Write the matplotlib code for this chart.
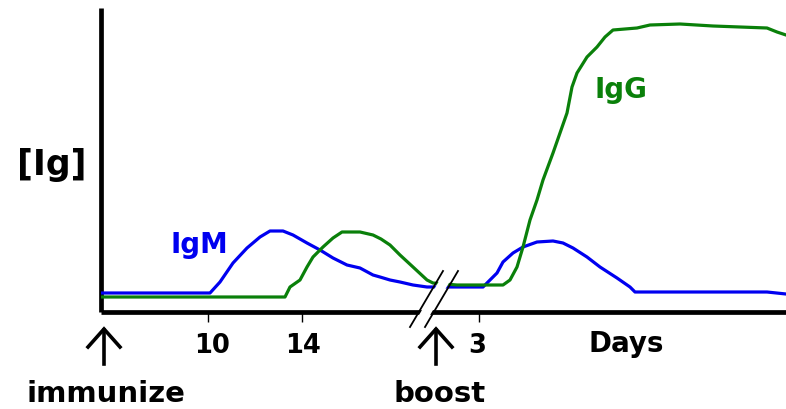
import matplotlib
matplotlib.use("Agg")
import matplotlib.pyplot as plt
from matplotlib.lines import Line2D
from matplotlib.patches import Polygon

# Schematic antibody response: x in layout units along the time axis,
# y in relative concentration units (0 at the time axis).
igm_x = [0, 109, 119, 132, 146, 159, 169, 182, 192, 206, 219, 232, 246, 259,
         272, 279, 289, 299, 312, 326, 382, 386, 396, 402, 412, 422, 436, 452,
         462, 472, 486, 499, 516, 529, 534, 666, 685]
igm_y = [19, 19, 30, 49, 64, 75, 81, 81, 77, 69, 62, 54, 47, 44,
         37, 35, 32, 30, 27, 25, 25, 29, 39, 50, 59, 65, 70, 71,
         69, 64, 55, 45, 34, 25, 20, 20, 18]

igg_x = [0, 184, 189, 199, 206, 212, 222, 232, 241, 259, 272, 280, 289, 299,
         312, 326, 332, 356, 402, 409, 416, 422, 429, 436, 442, 452, 459, 466,
         471, 476, 486, 496, 504, 512, 536, 549, 579, 612, 666, 676, 685]
igg_y = [15, 15, 25, 32, 45, 55, 65, 74, 80, 80, 77, 73, 67, 57,
         45, 32, 29, 27, 27, 32, 45, 65, 92, 112, 132, 159, 179, 199,
         225, 239, 255, 265, 275, 282, 284, 287, 288, 286, 284, 280, 277]

tick_pos = [107, 201, 378]
tick_labels = ["10", "14", "3"]

W, H = 786, 409
fig = plt.figure(figsize=(W / 100, H / 100), dpi=100)
ax_left, ax_right, ax_top, ax_bottom = 101, 786, 8, 312
ax = fig.add_axes([ax_left / W, 1 - ax_bottom / H,
                   (ax_right - ax_left) / W, (ax_bottom - ax_top) / H])
ax.set_xlim(0, ax_right - ax_left)
ax.set_ylim(0, ax_bottom - ax_top)

blue = "#0000f0"
green = "#0a800a"
ax.plot(igm_x, igm_y, color=blue, lw=2.3, solid_joinstyle="round", zorder=3)
ax.plot(igg_x, igg_y, color=green, lw=2.3, solid_joinstyle="round", zorder=3)

for s in ["top", "right"]:
    ax.spines[s].set_visible(False)
for s in ["left", "bottom"]:
    ax.spines[s].set_linewidth(3.4)
    ax.spines[s].set_color("black")
    ax.spines[s].set_capstyle("butt")
ax.set_yticks([])
ax.set_xticks(tick_pos)
ax.set_xticklabels([])
ax.tick_params(axis="x", direction="out", length=7, width=1, color="black")

bold = dict(family="DejaVu Sans", fontweight="bold")


def fig_text(x, y, s, size, color="black", ha="center"):
    fig.text(x / W, 1 - y / H, s, fontsize=size, color=color,
             ha=ha, va="baseline", **bold)


tick_centres = [212, 303, 477]
for xc, lab in zip(tick_centres, tick_labels):
    fig_text(xc, 353, lab, 18.5)
fig_text(626, 352, "Days", 20)
fig_text(52, 175, "[Ig]", 25)
fig_text(199, 253, "IgM", 20, color=blue)
fig_text(621, 98, "IgG", 20, color=green)
fig_text(106, 402, "immunize", 21)
fig_text(440, 402, "boost", 21)


def fig_line(xs, ys, **kw):
    fig.add_artist(Line2D([x / W for x in xs], [1 - y / H for y in ys],
                          transform=fig.transFigure, **kw))


# Up arrows under the axis
for x in (104, 436):
    fig_line([x, x], [364, 330], color="black", lw=2.6)
    fig_line([x - 16, x, x + 16], [347, 329, 347], color="black", lw=2.6,
             solid_joinstyle="miter")

# Axis break: white band bounded by two slashes
bx0, by0, bx1, by1 = 410, 327, 443, 271
dx = 15
band = Polygon(
    [((bx0 + 2) / W, 1 - by0 / H), ((bx1 + 2) / W, 1 - by1 / H),
     ((bx1 + dx - 2) / W, 1 - by1 / H), ((bx0 + dx - 2) / W, 1 - by0 / H)],
    closed=True, transform=fig.transFigure, facecolor="white",
    edgecolor="none", zorder=10)
fig.add_artist(band)
for off in (0, dx):
    fig_line([bx0 + off, bx1 + off], [by0, by1], color="black", lw=1.3,
             zorder=11)

fig.savefig("out.png", dpi=100)
